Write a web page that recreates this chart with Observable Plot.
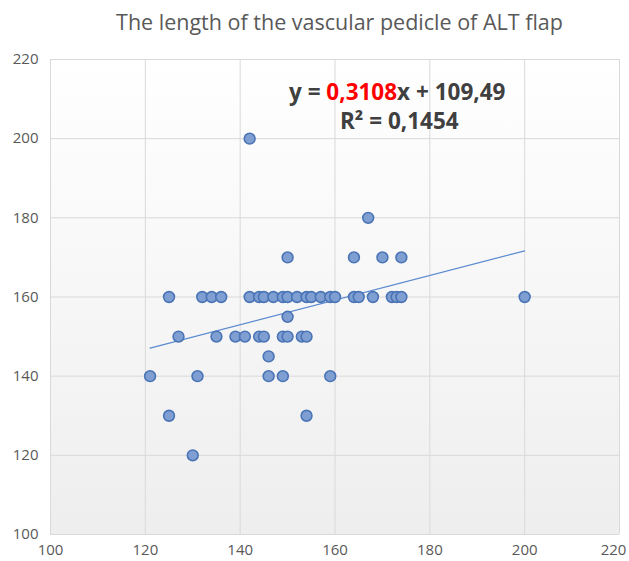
<!DOCTYPE html>
<html>
<head>
<meta charset="utf-8">
<script src="https://cdn.jsdelivr.net/npm/d3@7"></script>
<script src="https://cdn.jsdelivr.net/npm/@observablehq/plot@0.6"></script>
<style>
  html, body { margin: 0; padding: 0; background: #ffffff; }
  #wrap { position: relative; width: 629px; height: 561px; font-family: "Open Sans", "Noto Sans", sans-serif; }
  #title { height: 45px; line-height: 44px; text-align: center; font-size: 21.5px; color: #595959; padding-left: 50px; box-sizing: border-box; width: 629px; }
  #eq { position: absolute; left: 0; top: 76px; width: 629px; font-weight: bold; color: #404040; font-size: 22.5px; pointer-events: none; }
  #eq .l1 { position: absolute; left: 289px; top: 0; white-space: nowrap; }
  #eq .l2 { position: absolute; left: 340px; top: 29px; white-space: nowrap; }
  #eq .red { color: #ff0000; }
</style>
</head>
<body>
<div id="wrap">
  <div id="title">The length of the vascular pedicle of ALT flap</div>
  <div id="chart"></div>
  <div id="eq"><div class="l1">y = <span class="red">0,3108</span>x + 109,49</div><div class="l2">R² = 0,1454</div></div>
</div>
<script>
// Data
const xValues = [
  142,
  125, 132, 134, 136, 142, 144, 145, 147, 149, 150, 152, 154, 155, 157, 159, 160, 164, 165, 168, 172, 173, 174, 200,
  150, 164, 170, 167, 174,
  127, 135, 139, 141, 144, 145, 149, 150, 153, 154,
  150, 146,
  121, 131, 146, 149, 159,
  125, 154,
  130
];
const yValues = [
  200,
  160, 160, 160, 160, 160, 160, 160, 160, 160, 160, 160, 160, 160, 160, 160, 160, 160, 160, 160, 160, 160, 160, 160,
  170, 170, 170, 180, 170,
  150, 150, 150, 150, 150, 150, 150, 150, 150, 150,
  155, 145,
  140, 140, 140, 140, 140,
  130, 130,
  120
];
const xTicks = [100, 120, 140, 160, 180, 200, 220];
const yTicks = [100, 120, 140, 160, 180, 200, 220];
const slope = 0.3108;
const intercept = 109.49;
const trendX = [121, 200];

const points = xValues.map((x, i) => ({x, y: yValues[i]}));
const trend = trendX.map(x => ({x, y: slope * x + intercept}));
const xTicksInner = xTicks.slice(0, -1);
const xTickLast = xTicks.slice(-1);

const plot = Plot.plot({
  width: 629,
  height: 516,
  marginLeft: 50,
  marginRight: 10,
  marginTop: 14,
  marginBottom: 27,
  style: {fontFamily: "'Open Sans', 'Noto Sans', sans-serif", fontSize: "15px", color: "#595959", background: "transparent", overflow: "visible"},
  x: {domain: [100, 220], ticks: xTicks, label: null},
  y: {domain: [100, 220], ticks: yTicks, label: null},
  marks: [
    Plot.frame({fill: "url(#bggrad)", stroke: null}),
    Plot.gridX(xTicks, {stroke: "#d9d9d9", strokeOpacity: 1, strokeWidth: 1}),
    Plot.gridY(yTicks, {stroke: "#d9d9d9", strokeOpacity: 1, strokeWidth: 1}),
    Plot.axisX(xTicksInner, {tickSize: 0, tickPadding: 10, fill: "#595959", fontSize: 15}),
    Plot.axisX(xTickLast, {tickSize: 0, tickPadding: 10, fill: "#595959", fontSize: 15, dx: -6}),
    Plot.axisY(yTicks, {tickSize: 0, tickPadding: 12, fill: "#595959", fontSize: 15}),
    Plot.line(trend, {x: "x", y: "y", stroke: "#5b8ad0", strokeWidth: 1.2}),
    Plot.dot(points, {x: "x", y: "y", r: 5.4, fill: "#7f9fd3", stroke: "#4a74b5", strokeWidth: 1.6, fillOpacity: 1})
  ]
});

const ns = "http://www.w3.org/2000/svg";
const defs = document.createElementNS(ns, "defs");
defs.innerHTML = '<linearGradient id="bggrad" x1="0" y1="0" x2="0" y2="1"><stop offset="0" stop-color="#ffffff"/><stop offset="1" stop-color="#eeeeee"/></linearGradient>';
plot.insertBefore(defs, plot.firstChild);
document.getElementById("chart").appendChild(plot);
</script>
</body>
</html>
